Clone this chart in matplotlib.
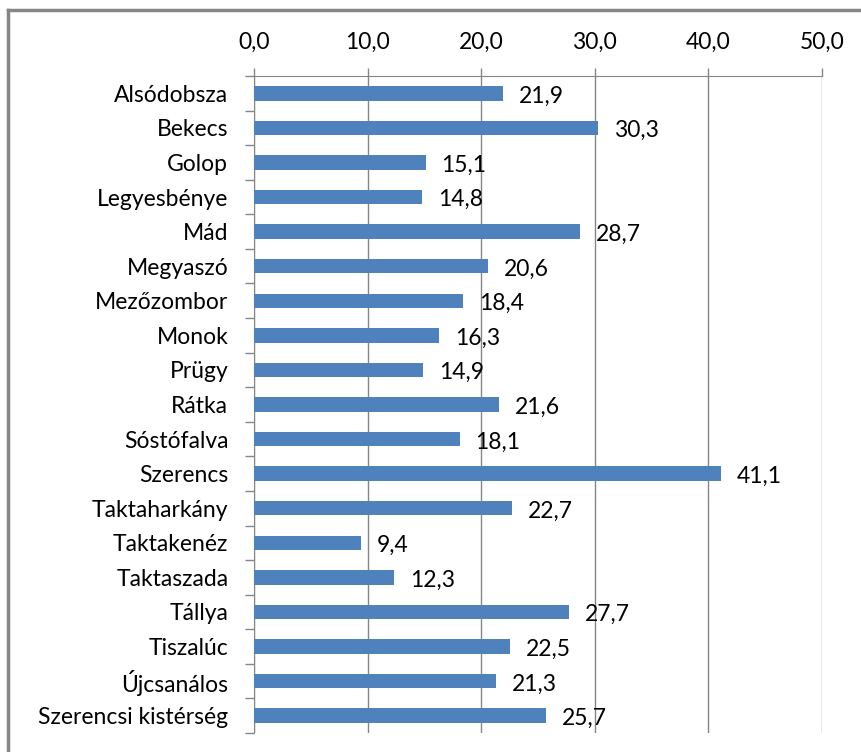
import matplotlib.pyplot as plt
from matplotlib.lines import Line2D

# Település adatok
telepulesek = ["Alsódobsza", "Bekecs", "Golop", "Legyesbénye", "Mád", "Megyaszó",
               "Mezőzombor", "Monok", "Prügy", "Rátka", "Sóstófalva", "Szerencs",
               "Taktaharkány", "Taktakenéz", "Taktaszada", "Tállya", "Tiszalúc",
               "Újcsanálos", "Szerencsi kistérség"]
ertekek = [21.9, 30.3, 15.1, 14.8, 28.7, 20.6, 18.4, 16.3, 14.9, 21.6, 18.1, 41.1,
           22.7, 9.4, 12.3, 27.7, 22.5, 21.3, 25.7]
x_ticks = [0, 10, 20, 30, 40, 50]

plt.rcParams['font.family'] = ['Lato', 'DejaVu Sans']
betu = 16.5

fig = plt.figure(figsize=(8.62, 7.52), dpi=100)
ax = fig.add_axes([254 / 862, 1 - 733 / 752, 568 / 862, 657 / 752])

pos = list(range(len(telepulesek)))
ax.barh(pos, ertekek, height=0.42, color="#4F81BD", zorder=3)

for p, v in zip(pos, ertekek):
    ax.text(v + 1.4, p + 0.08, f"{v:.1f}".replace(".", ","), va="center",
            ha="left", fontsize=betu, color="black")

ax.set_ylim(len(telepulesek) - 0.5, -0.5)
ax.set_xlim(0, 50)
ax.set_yticks(pos)
ax.set_yticklabels(telepulesek, fontsize=betu)
ax.set_yticks([p + 0.5 for p in [-1] + pos], minor=True)
ax.tick_params(axis="y", which="major", length=0, pad=18.5)
ax.tick_params(axis="y", which="minor", length=6.5, color="#868686", width=1)

ax.xaxis.tick_top()
ax.set_xticks(x_ticks)
ax.set_xticklabels([f"{t:.1f}".replace(".", ",") for t in x_ticks], fontsize=betu)
ax.tick_params(axis="x", length=6, color="#868686", width=1, pad=11)
ax.grid(axis="x", color="#868686", linewidth=1, zorder=0)

for s in ["right", "bottom"]:
    ax.spines[s].set_visible(False)
ax.spines["left"].set_color("#868686")
ax.spines["top"].set_color("#868686")

# Keret
fig.add_artist(Line2D([8 / 862, 8 / 862], [0, 1 - 10 / 752], transform=fig.transFigure,
                      color="#868686", linewidth=2.5))
fig.add_artist(Line2D([8 / 862, 1], [1 - 10 / 752, 1 - 10 / 752], transform=fig.transFigure,
                      color="#868686", linewidth=2.5))

plt.savefig("out.png", dpi=100)
